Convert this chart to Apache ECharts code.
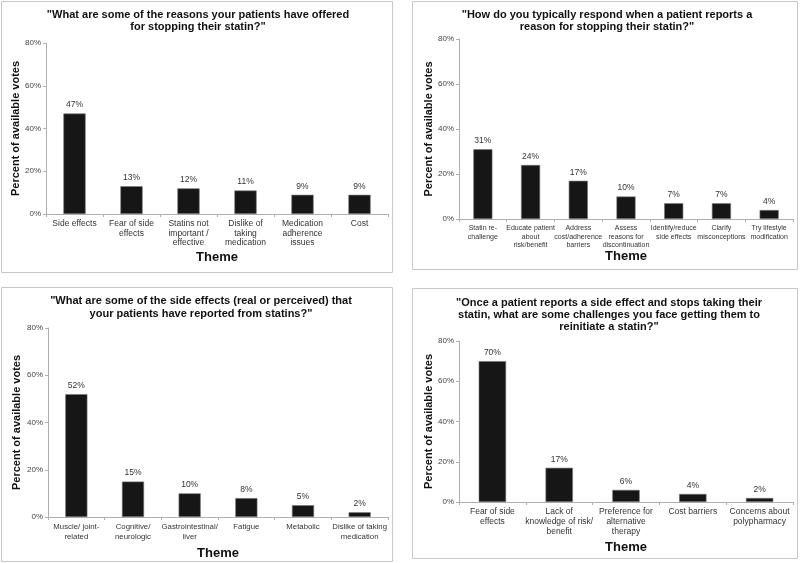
<!DOCTYPE html>
<html><head><meta charset="utf-8">
<script src="https://cdn.jsdelivr.net/npm/echarts@6/dist/echarts.min.js"></script>
<style>html,body{margin:0;padding:0;background:#fff}#c{width:800px;height:563px}</style>
</head><body><div id="c"></div>
<script>
const titles = [
  '"What are some of the reasons your patients have offered\nfor stopping their statin?"',
  '"How do you typically respond when a patient reports a\nreason for stopping their statin?"',
  '"What are some of the side effects (real or perceived) that\nyour patients have reported from statins?"',
  '"Once a patient reports a side effect and stops taking their\nstatin, what are some challenges you face getting them to\nreinitiate a statin?"'
];
const cats1 = ['Side effects','Fear of side\neffects','Statins not\nimportant /\neffective','Dislike of\ntaking\nmedication','Medication\nadherence\nissues','Cost'];
const vals1 = [47,13,12,11,9,9];
const cats2 = ['Statin re-\nchallenge','Educate patient\nabout\nrisk/benefit','Address\ncost/adherence\nbarriers','Assess\nreasons for\ndiscontinuation','Identify/reduce\nside effects','Clarify\nmisconceptions','Try lifestyle\nmodification'];
const vals2 = [31,24,17,10,7,7,4];
const cats3 = ['Muscle/ joint-\nrelated','Cognitive/\nneurologic','Gastrointestinal/\nliver','Fatigue','Metabolic','Dislike of taking\nmedication'];
const vals3 = [52,15,10,8,5,2];
const cats4 = ['Fear of side\neffects','Lack of\nknowledge of risk/\nbenefit','Preference for\nalternative\ntherapy','Cost barriers','Concerns about\npolypharmacy'];
const vals4 = [70,17,6,4,2];
const yTicks = [0,20,40,60,80];
const xName = 'Theme';
const yName = 'Percent of available votes';

const FONT = '"Liberation Sans", Arial, sans-serif';
const grids = [
  {left:46, top:43, width:342, height:171},
  {left:459, top:39, width:334, height:180},
  {left:48, top:328, width:340, height:189},
  {left:459, top:341, width:334, height:161}
];
const cats = [cats1,cats2,cats3,cats4];
const vals = [vals1,vals2,vals3,vals4];
const catFont = [8.5,7,7.8,8.5];
const catLH = [9.5,8.5,10,10];
const titlePos = [{x:198,y:9,lh:12},{x:607,y:9,lh:12},{x:201,y:294,lh:13},{x:609,y:297,lh:12}];
const xNameGap = [37,31,30,39];
const yNameGap = [24,25,26,25];
const barW = ['39%','40%','39%','41%'];

const option = {
  animation:false,
  textStyle:{fontFamily:FONT},
  title: titles.map((t,i)=>({text:t,left:titlePos[i].x,top:titlePos[i].y,textAlign:'center',padding:0,
    textStyle:{fontFamily:FONT,fontSize:11,fontWeight:'bold',color:'#111',lineHeight:titlePos[i].lh}})),
  graphic: [
    {type:'rect',shape:{x:1.5,y:1.5,width:391,height:271},style:{fill:'none',stroke:'#c8c8c8',lineWidth:1}},
    {type:'rect',shape:{x:412.5,y:1.5,width:385,height:268},style:{fill:'none',stroke:'#c8c8c8',lineWidth:1}},
    {type:'rect',shape:{x:1.5,y:287.5,width:391,height:274},style:{fill:'none',stroke:'#c8c8c8',lineWidth:1}},
    {type:'rect',shape:{x:412.5,y:288.5,width:385,height:270},style:{fill:'none',stroke:'#c8c8c8',lineWidth:1}}
  ],
  grid: grids,
  xAxis: cats.map((c,i)=>({type:'category',gridIndex:i,data:c,
    name:xName,nameLocation:'middle',nameGap:xNameGap[i],
    nameTextStyle:{fontFamily:FONT,fontSize:13,fontWeight:'bold',color:'#111'},
    axisLine:{lineStyle:{color:'#b0b0b0'}},
    axisTick:{show:true,alignWithLabel:false,length:3,lineStyle:{color:'#b0b0b0'}},
    axisLabel:{interval:0,fontSize:catFont[i],color:'#333',fontFamily:FONT,margin:5,lineHeight:catLH[i]}
  })),
  yAxis: cats.map((c,i)=>({type:'value',gridIndex:i,min:yTicks[0],max:yTicks[yTicks.length-1],interval:20,
    name:yName,nameLocation:'middle',nameGap:yNameGap[i],nameRotate:90,
    nameTextStyle:{fontFamily:FONT,fontSize:11,fontWeight:'bold',color:'#111'},
    axisLine:{show:true,lineStyle:{color:'#b0b0b0'}},
    axisTick:{show:true,length:3,lineStyle:{color:'#b0b0b0'}},
    splitLine:{show:false},
    axisLabel:{formatter:'{value}%',fontSize:8,color:'#444',fontFamily:FONT,margin:5}
  })),
  series: vals.map((v,i)=>({type:'bar',xAxisIndex:i,yAxisIndex:i,data:v,barWidth:barW[i],
    itemStyle:{color:'#161616',borderColor:'#777',borderWidth:0.6},
    label:{show:true,position:'top',formatter:'{c}%',fontSize:8.5,color:'#333',fontFamily:FONT,distance:4}
  }))
};
echarts.init(document.getElementById('c')).setOption(option);
</script></body></html>
